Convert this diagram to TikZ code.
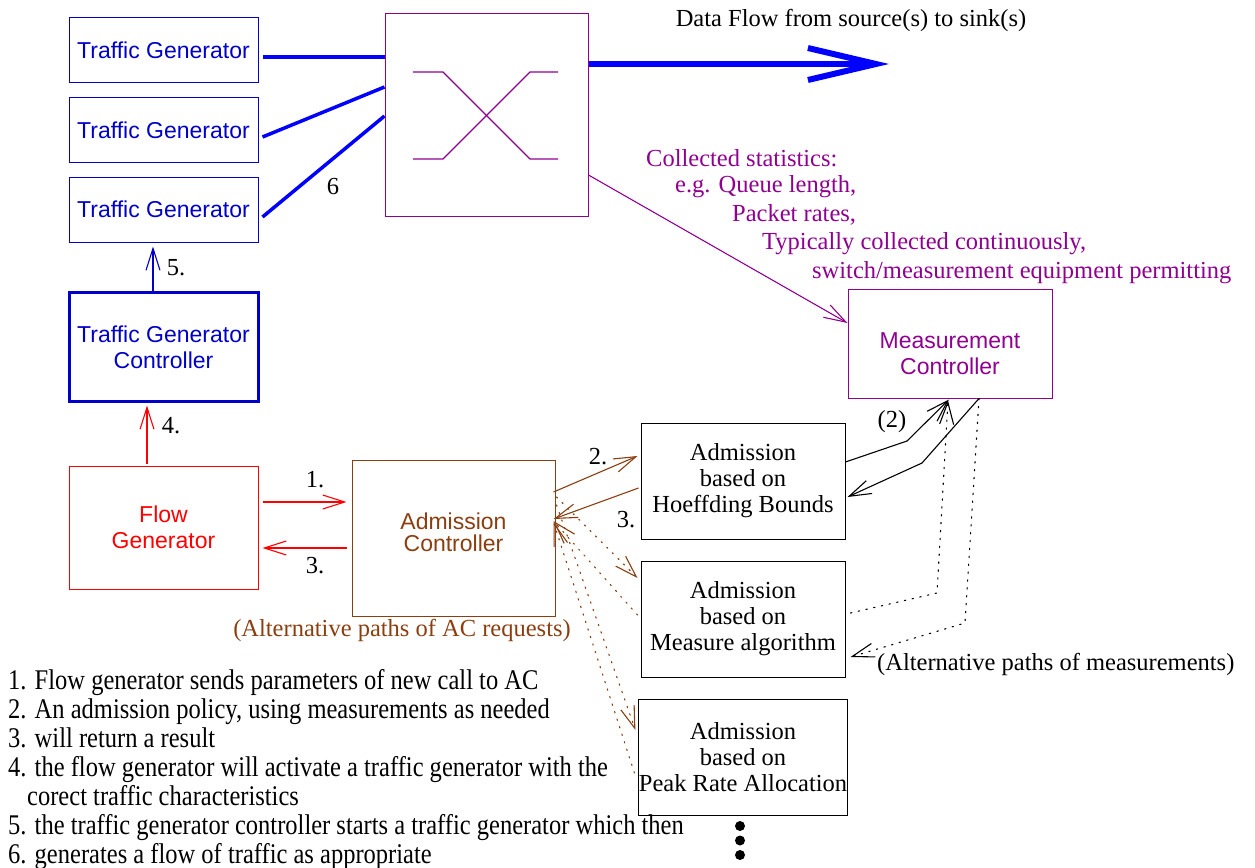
\documentclass[tikz,border=0pt]{standalone}
\usepackage{fontspec}
\setmainfont{Liberation Serif}
\newfontfamily\hvfont{Liberation Sans}
\newfontfamily\condfont[FakeStretch=0.86]{Liberation Serif}
\usetikzlibrary{arrows.meta,calc}
\definecolor{tgblue}{RGB}{0,0,200}
\definecolor{lineblue}{RGB}{0,0,255}
\definecolor{swpurple}{RGB}{144,0,144}
\definecolor{acbrown}{RGB}{139,62,16}
\definecolor{fgred}{RGB}{255,0,0}
\begin{document}
\begin{tikzpicture}[x=1pt,y=-1pt,
  tmf/.style={font=\fontsize{24.5}{26}\selectfont},
  hvf/.style={font=\hvfont\fontsize{23}{26}\selectfont},
  box/.style={draw, inner sep=0pt, align=center, line width=1pt},
  barb/.style={-{Straight Barb[length=22pt,width=14pt]}, line width=1.1pt},
  dotline/.style={dash pattern=on 1.4pt off 6.5pt, line cap=round},
  lbl/.style={tmf, inner sep=0pt}]
\useasboundingbox (0,0) rectangle (1255,867);

% traffic generators
\node[box, hvf, tgblue, minimum width=189pt, minimum height=65pt] (tg1) at (163.5,50) {Traffic Generator};
\node[box, hvf, tgblue, minimum width=189pt, minimum height=65pt] (tg2) at (163.5,130) {Traffic Generator};
\node[box, hvf, tgblue, minimum width=189pt, minimum height=65pt] (tg3) at (163.5,209.5) {Traffic Generator};
\node[box, hvf, tgblue, line width=3pt, minimum width=189pt, minimum height=109pt] (tgc) at (163.5,347) {Traffic Generator\\Controller};
\node[box, hvf, fgred, minimum width=189pt, minimum height=123pt] (fg) at (163.5,527.5) {Flow\\Generator};

% admission controller
\node[box, acbrown, minimum width=203pt, minimum height=156pt] (ac) at (453.5,538) {};
\node[font=\hvfont\fontsize{23}{22}\selectfont, acbrown, align=center, inner sep=0pt] (actext) at (453.5,532) {Admission\\Controller};

% switch
\node[box, swpurple, minimum width=203pt, minimum height=202pt] (sw) at (486.5,115) {};
\begin{scope}[shift={(sw.center)}, swpurple, line width=1.2pt]
  \draw (-73.5,-43) -- (-43.5,-43) -- (43.5,44) -- (71.5,44);
  \draw (-73.5,44) -- (-43.5,44) -- (43.5,-43) -- (71.5,-43);
\end{scope}

% measurement controller
\node[box, swpurple, minimum width=204pt, minimum height=109pt] (mc) at (950,343.5) {};
\node[hvf, swpurple, align=center, inner sep=0pt] (mctext) at (950,353.5) {Measurement\\Controller};

% admission policy boxes
\node[box, tmf, minimum width=204pt, minimum height=116pt] (ah) at (743,481) {Admission\\based on\\Hoeffding Bounds};
\node[box, tmf, minimum width=204pt, minimum height=116pt] (am) at (743,619) {Admission\\based on\\Measure algorithm};
\node[box, tmf, minimum width=204pt, minimum height=116pt] (ap) at (743,757) {Admission\\based on\\Peak Rate Allocation};

% dots
\node[circle, fill, inner sep=0pt, minimum size=10pt] (d1) at (740,826) {};
\node[circle, fill, inner sep=0pt, minimum size=10pt] (d2) at (740,840.5) {};
\node[circle, fill, inner sep=0pt, minimum size=10pt] (d3) at (740,855) {};

% data flow
\coordinate (sink) at (889,64);
\draw[lineblue, line width=3.5pt] ($(tg1.east)+(4,7)$) -- ($(sw.west)+(0,-58)$);
\draw[lineblue, line width=3.5pt] ($(tg2.east)+(4,7)$) -- ($(sw.west)+(0,-28)$);
\draw[lineblue, line width=3.5pt] ($(tg3.east)+(4,7.5)$) -- ($(sw.west)+(0,1)$);
\draw[lineblue, line width=6pt, -{Straight Barb[length=68pt,width=32pt]}] ($(sw.east)+(0,-51)$) -- (sink);
\node[lbl] (dftext) at (851,20) {Data Flow from source(s) to sink(s)};

% statistics
\draw[swpurple, barb] ($(sw.east)+(0,60)$) -- ($(mc.west)+(0,-20.5)$);
\node[lbl, swpurple, anchor=west] (st1) at (646,158) {Collected statistics:};
\node[lbl, swpurple, anchor=west] (st2) at (675,187) {e.g. Queue length,};
\node[lbl, swpurple, anchor=west] (st3) at (732,215) {Packet rates,};
\node[lbl, swpurple, anchor=west] (st4) at (762,244) {Typically collected continuously,};
\node[lbl, swpurple, anchor=west] (st5) at (812,273) {switch/measurement equipment permitting};

% control arrows
\draw[tgblue, barb] ($(tgc.north)+(-10.5,0)$) -- ($(tg3.south)+(-10.5,4)$);
\node[lbl] (l5) at (176,268) {5.};
\draw[fgred, barb] ($(fg.north)+(-16.5,-2)$) -- ($(tgc.south)+(-16.5,2.5)$);
\node[lbl] (l4) at (171,426) {4.};
\node[lbl] (l6) at (333,187) {6};

\draw[fgred, barb] ($(fg.east)+(4,-25.5)$) -- ($(ac.west)+(-5,-36)$);
\node[lbl] (l1) at (315,480) {1.};
\draw[fgred, barb] ($(ac.west)+(-5,10)$) -- ($(fg.east)+(4,20.5)$);
\node[lbl] (l3a) at (315,566) {3.};

% AC <-> admission boxes
\draw[acbrown, barb] ($(ac.east)+(-2,-46)$) -- ($(ah.west)+(-3,-25)$);
\node[lbl] (l2) at (598,457) {2.};
\draw[acbrown, barb] ($(ah.west)+(-2,7)$) -- ($(ac.east)+(-2,-19)$);
\node[lbl] (l3b) at (626,520) {3.};
\draw[acbrown, barb, dotline] ($(ac.east)+(1,-41)$) -- ($(am.west)+(-3,-41)$);
\draw[acbrown, barb, dotline] ($(am.west)+(-3,-4)$) -- ($(ac.east)+(-2,-17)$);
\draw[acbrown, barb, dotline] ($(ac.east)+(1,-33)$) -- ($(ap.west)+(-3,-27)$);
\draw[acbrown, barb, dotline] ($(ap.west)+(-4,16)$) -- ($(ac.east)+(-2,-16)$);
\node[lbl, acbrown] (altac) at (402,630) {(Alternative paths of AC requests)};

% admission boxes <-> measurement controller
\draw[barb] ($(ah.east)+(0,-19)$) -- (907,441) -- ($(mc.south)+(-1,1)$);
\node[lbl] (l2b) at (892,422) {(2)};
\draw[barb] ($(mc.south)+(29,0)$) -- (922,463) -- ($(ah.east)+(2,16)$);
\draw[barb, dotline] ($(am.east)+(5,-6)$) -- (937,593) -- ($(mc.south)+(-2,2)$);
\draw[barb, dotline] ($(mc.south)+(29,0)$) -- (965,623) -- ($(am.east)+(5,38)$);
\node[lbl, anchor=west] (altm) at (877,664) {(Alternative paths of measurements)};

% notes
\node[anchor=north west, align=left, inner sep=0pt, font=\condfont\fontsize{28.5}{29}\selectfont] (notes) at (8,669) {1. Flow generator sends parameters of new call to AC\\
2. An admission policy, using measurements as needed\\
3. will return a result\\
4. the flow generator will activate a traffic generator with the\\
\hspace*{19pt}corect traffic characteristics\\
5. the traffic generator controller starts a traffic generator which then\\
6. generates a flow of traffic as appropriate};
\end{tikzpicture}
\end{document}
